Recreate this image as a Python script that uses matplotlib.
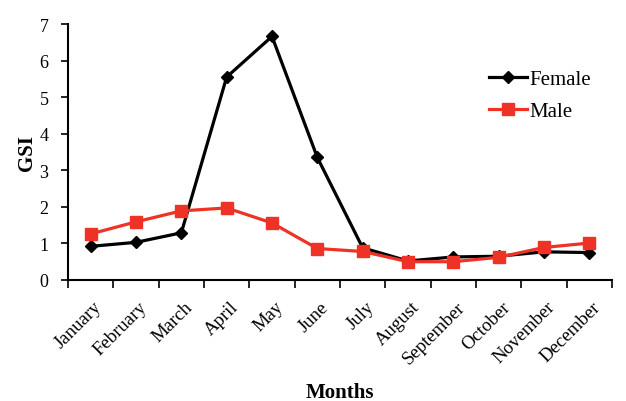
import numpy as np
import matplotlib
matplotlib.use('Agg')
import matplotlib.pyplot as plt
from matplotlib.transforms import ScaledTranslation

months = ['January', 'February', 'March', 'April', 'May', 'June', 'July',
          'August', 'September', 'October', 'November', 'December']
female = [0.92, 1.03, 1.29, 5.55, 6.66, 3.35, 0.88, 0.52, 0.63, 0.65, 0.77, 0.75]
male = [1.26, 1.59, 1.89, 1.97, 1.56, 0.86, 0.78, 0.50, 0.50, 0.62, 0.89, 1.01]

plt.rcParams['font.family'] = 'Liberation Serif'

fig = plt.figure(figsize=(6.26, 4.02), dpi=100)
ax = fig.add_axes([68/626, 1 - 281/402, (612-68)/626, (281-25)/402])

x = np.arange(len(months))
ax.plot(x, female, color='black', lw=2.3, marker='D', ms=6.5, label='Female')
ax.plot(x, male, color='#ee3326', lw=2.3, marker='s', ms=9, label='Male')

ax.set_xlim(-0.5, len(months) - 0.5)
ax.set_ylim(0, 7)
ax.set_yticks(range(0, 8))
ax.tick_params(axis='y', labelsize=13, length=5, width=1.2, direction='out', pad=9)

ax.set_xticks(x)
ax.set_xticklabels(months, rotation=45, ha='right', rotation_mode='anchor', fontsize=13.5)
ax.tick_params(axis='x', which='major', length=0, pad=13)
ax.set_xticks(np.arange(-0.5, len(months)), minor=True)
ax.tick_params(axis='x', which='minor', length=6, width=1.2, direction='out')
# nudge month labels a bit to the right, like the original
for lab in ax.get_xticklabels():
    lab.set_transform(lab.get_transform() + ScaledTranslation(2/72, 0, fig.dpi_scale_trans))

for s in ['top', 'right']:
    ax.spines[s].set_visible(False)
for s in ['left', 'bottom']:
    ax.spines[s].set_linewidth(1.5)

ax.set_ylabel('GSI', fontsize=15, fontweight='bold', labelpad=2)
ax.set_xlabel('Months', fontsize=15, fontweight='bold', labelpad=11)

ax.legend(loc='upper right', bbox_to_anchor=(0.98, 0.862), frameon=False,
          fontsize=15, handlelength=1.8, handletextpad=0.1, labelspacing=0.6,
          borderpad=0)

fig.savefig('out.png', dpi=100)
